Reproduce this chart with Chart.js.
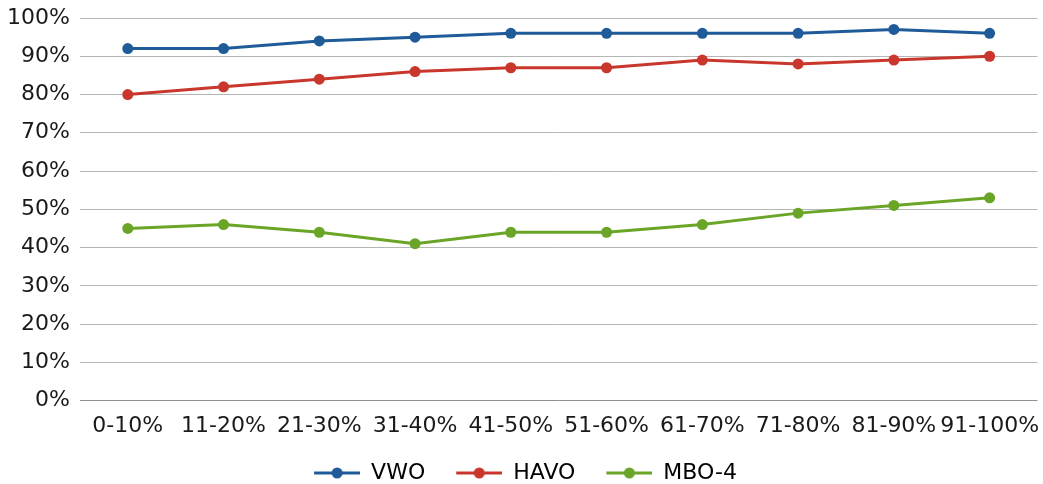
<!DOCTYPE html>
<html>
<head>
<meta charset="utf-8">
<script src="https://cdn.jsdelivr.net/npm/chart.js@4.4.0/dist/chart.umd.min.js"></script>
<style>
  html, body { margin:0; padding:0; background:#fff; }
  #wrap { width:1043px; height:484px; }
</style>
</head>
<body>
<div id="wrap"><canvas id="c" width="1043" height="484"></canvas></div>
<script>
const categories = ['0-10%','11-20%','21-30%','31-40%','41-50%','51-60%','61-70%','71-80%','81-90%','91-100%'];
const vwo  = [92, 92, 94, 95, 96, 96, 96, 96, 97, 96];
const havo = [80, 82, 84, 86, 87, 87, 89, 88, 89, 90];
const mbo4 = [45, 46, 44, 41, 44, 44, 46, 49, 51, 53];
const yTicks = [0,10,20,30,40,50,60,70,80,90,100];

const colors = { vwo:'#1f5a99', havo:'#c9372c', mbo:'#6aa527' };
const FONT = '"DejaVu Sans", Verdana, sans-serif';
const GAP = 6; // blank in front of each legend marker (extra spacing between items)

// legend marker: short line with a dot in the middle
function legendMarker(color){
  const cv = document.createElement('canvas');
  cv.width = 46 + GAP; cv.height = 14;
  const g = cv.getContext('2d');
  g.strokeStyle = color; g.lineWidth = 3;
  g.beginPath(); g.moveTo(GAP,7); g.lineTo(GAP+46,7); g.stroke();
  g.fillStyle = color;
  g.beginPath(); g.arc(GAP+23,7,5.5,0,Math.PI*2); g.fill();
  return cv;
}

function series(label, data, color){
  return {
    label, data,
    borderColor: color,
    backgroundColor: color,
    pointBackgroundColor: color,
    pointBorderColor: color,
    borderWidth: 3,
    pointBorderWidth: 0,
    pointRadius: 5.5,
    pointHoverRadius: 5.5,
    tension: 0
  };
}

Chart.defaults.font.family = FONT;
Chart.defaults.color = '#1a1a1a';

new Chart(document.getElementById('c'), {
  type:'line',
  data:{
    labels: categories,
    datasets:[
      series('VWO', vwo, colors.vwo),
      series('HAVO', havo, colors.havo),
      series('MBO-4', mbo4, colors.mbo)
    ]
  },
  options:{
    responsive:false,
    animation:false,
    layout:{ padding:{ top:-2, right:-5, bottom:-10, left:-3 } },
    plugins:{
      legend:{
        display:true,
        position:'bottom',
        labels:{
          usePointStyle:true,
          pointStyleWidth:46 + GAP,
          padding:25,
          font:{ family:FONT, size:22 },
          generateLabels:(chart)=> chart.data.datasets.map((ds,i)=>({
            text: ds.label,
            pointStyle: legendMarker(ds.borderColor),
            fillStyle: ds.borderColor,
            strokeStyle: ds.borderColor,
            lineWidth: 0,
            datasetIndex: i,
            hidden: false
          }))
        }
      },
      tooltip:{ enabled:false }
    },
    scales:{
      x:{
        offset:true,
        grid:{ display:false, drawTicks:false },
        border:{ display:false },
        ticks:{ font:{ family:FONT, size:22 }, maxRotation:0, autoSkip:false, padding:12 },
        afterFit:(s)=>{ s.height -= 14; s.paddingRight = 5; }
      },
      y:{
        min:0, max:100,
        afterBuildTicks:(axis)=>{ axis.ticks = yTicks.map(v=>({ value:v })); },
        afterFit:(s)=>{ s.paddingTop = 18; },
        grid:{
          color:(ctx)=> ctx.tick && ctx.tick.value === 0 ? '#8f8f8f' : '#b5b5b5',
          lineWidth:1,
          drawTicks:false
        },
        border:{ display:false },
        ticks:{
          font:{ family:FONT, size:22 },
          padding:10,
          callback:(v)=> v + '%'
        }
      }
    }
  }
});
</script>
</body>
</html>
